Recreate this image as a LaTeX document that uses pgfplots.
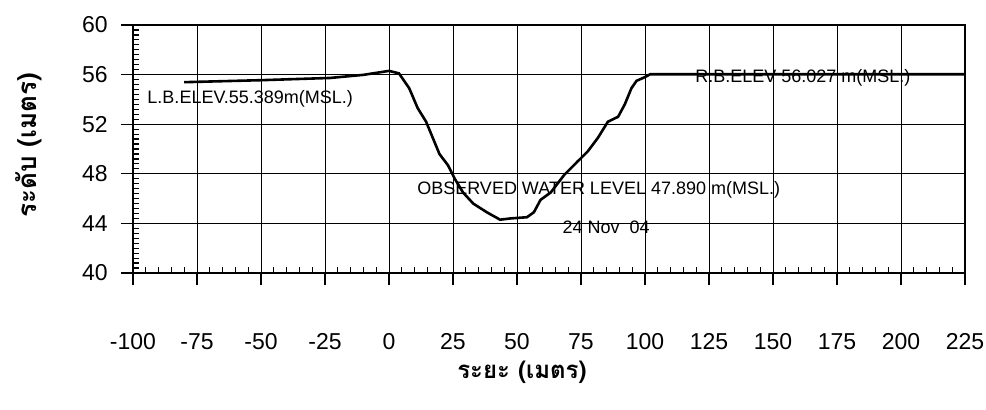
\documentclass[border=0pt]{standalone}
\usepackage{fontspec}
\usepackage{pgfplots}
\pgfplotsset{compat=1.18}
\setmainfont{Liberation Sans}
\newfontfamily\thaifont[Script=Thai]{Loma}
\begin{document}
\begin{tikzpicture}
\pgfplotsset{
  common/.style={
    width=416pt, height=124pt, scale only axis,
    at={(0,0)}, anchor=south west,
    xmin=-100, xmax=225, ymin=40, ymax=60,
    xtick={-100,-75,...,225}, ytick={40,44,...,60},
    xtick pos=left, ytick pos=left,
    axis line style={line width=1.1pt},
  }
}
% axis 1: grid, minor inside ticks, labels, data
\begin{axis}[common,
  grid=major, major grid style={black, line width=0.45pt},
  tick align=inside, major tick length=0pt, minor tick length=3pt,
  minor x tick num=4, minor y tick num=9,
  minor tick style={black, line width=0.6pt},
  /pgf/number format/assume math mode=true,
  tick label style={font=\fontsize{11.5}{13}\selectfont},
  xticklabel style={inner sep=0pt, anchor=north, yshift=-30pt},
  yticklabel style={inner sep=0pt, anchor=east, xshift=-12.5pt},
  xlabel={\thaifont\bfseries ระยะ (เมตร)},
  ylabel={\thaifont\bfseries ระดับ (เมตร)},
  xlabel style={at={(axis description cs:0.4675,-0.40)}, anchor=center, font=\fontsize{12}{14}\selectfont},
  ylabel style={at={(axis description cs:-0.125,0.516)}, anchor=center, font=\fontsize{13}{15}\selectfont},
]
\addplot[black, line width=1.3pt, mark=none] coordinates {
(-80,55.389) (-50,55.55) (-23,55.73) (-10,55.98) (0,56.3) (3.9,56.1) (7.9,54.9)
(11.2,53.3) (14.5,52.2) (17.1,50.9) (19.7,49.6) (23,48.7) (25.7,47.6) (28.9,46.5)
(32.9,45.6) (38.2,44.9) (43.4,44.3) (47.4,44.4) (53.9,44.5) (56.6,44.9) (59.2,45.9)
(63.2,46.5) (68.4,47.9) (73.7,49.0) (77.6,49.8) (81.6,50.9) (85.5,52.2) (89.5,52.6)
(92.1,53.6) (94.7,54.9) (96.7,55.5) (100,55.8) (102,56.027) (225,56.027)
};
\node[anchor=west, inner sep=0pt, font=\fontsize{9}{10}\selectfont] at (axis cs:-94.5,54.03) {L.B.ELEV.55.389m(MSL.)};
\node[anchor=west, inner sep=0pt, font=\fontsize{9}{10}\selectfont] at (axis cs:119.5,55.7) {R.B.ELEV 56.027 m(MSL.)};
\node[anchor=west, inner sep=0pt, font=\fontsize{9}{10}\selectfont] at (axis cs:10.9,46.7) {OBSERVED WATER LEVEL 47.890 m(MSL.)};
\node[anchor=center, inner sep=0pt, font=\fontsize{9}{10}\selectfont] at (axis cs:84.8,43.7) {24 Nov~~04};
\end{axis}
% axis 2: major ticks outside
\begin{axis}[common,
  tick align=outside, major tick length=6pt,
  tick style={black, line width=0.6pt},
  xticklabels={}, yticklabels={},
]
\end{axis}
\pgfresetboundingbox
\path[use as bounding box] (-66.5pt,-68pt) rectangle (426.5pt,136.5pt);
\end{tikzpicture}
\end{document}
